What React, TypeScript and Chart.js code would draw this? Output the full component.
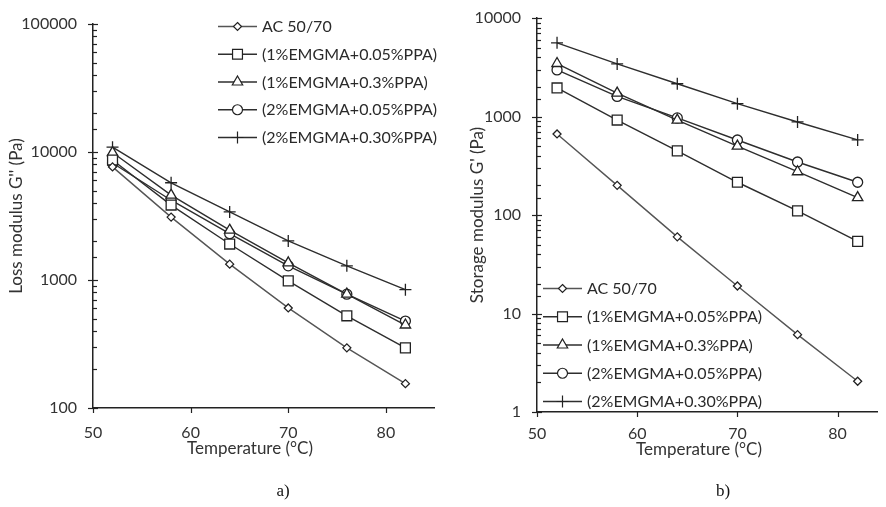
import React, { useEffect, useRef } from 'react';
import { Chart, registerables } from 'chart.js';

Chart.register(...registerables);

// ---------- data ----------
const temperatures = [52, 58, 64, 70, 76, 82];
const seriesNames = [
  'AC 50/70',
  '(1%EMGMA+0.05%PPA)',
  '(1%EMGMA+0.3%PPA)',
  '(2%EMGMA+0.05%PPA)',
  '(2%EMGMA+0.30%PPA)',
];
// Loss modulus G'' (Pa)
const lossAC = [7650, 3100, 1330, 605, 295, 155];
const loss1EM005 = [8650, 3850, 1910, 985, 525, 295];
const loss1EM03 = [9900, 4600, 2450, 1360, 775, 445];
const loss2EM005 = [8200, 4200, 2300, 1290, 775, 478];
const loss2EM03 = [10900, 5750, 3400, 2020, 1290, 840];
// Storage modulus G' (Pa)
const storAC = [665, 200, 60, 19, 6.1, 2.05];
const stor1EM005 = [1950, 920, 448, 215, 110, 54];
const stor1EM03 = [3450, 1730, 920, 500, 275, 150];
const stor2EM005 = [2970, 1600, 968, 577, 345, 215];
const stor2EM03 = [5600, 3420, 2150, 1350, 880, 578];

const xTickValues = [50, 60, 70, 80];
const lossYLabels = [100, 1000, 10000, 100000];
const storYLabels = [1, 10, 100, 1000, 10000];
const xTitle = 'Temperature (°C)';

// ---------- styles ----------
const pointStyles = ['rectRot', 'rect', 'triangle', 'circle', 'cross'];
const pointRadii = [4, 7, 6, 5, 6];
const lineColors = ['#555', '#2e2e2e', '#2e2e2e', '#2e2e2e', '#2e2e2e'];
const FONT = 'Lato, "Open Sans", sans-serif';

function drawMarker(ctx: CanvasRenderingContext2D, style: string, x: number, y: number, r: number) {
  ctx.beginPath();
  if (style === 'rectRot') {
    ctx.moveTo(x, y - r);
    ctx.lineTo(x + r, y);
    ctx.lineTo(x, y + r);
    ctx.lineTo(x - r, y);
    ctx.closePath();
  } else if (style === 'rect') {
    const s = r * Math.SQRT1_2;
    ctx.rect(x - s, y - s, 2 * s, 2 * s);
  } else if (style === 'triangle') {
    let a = 0;
    ctx.moveTo(x + Math.sin(a) * r, y - Math.cos(a) * r);
    a += (2 * Math.PI) / 3;
    ctx.lineTo(x + Math.sin(a) * r, y - Math.cos(a) * r);
    a += (2 * Math.PI) / 3;
    ctx.lineTo(x + Math.sin(a) * r, y - Math.cos(a) * r);
    ctx.closePath();
  } else if (style === 'circle') {
    ctx.arc(x, y, r, 0, Math.PI * 2);
  } else if (style === 'cross') {
    ctx.moveTo(x, y - r);
    ctx.lineTo(x, y + r);
    ctx.moveTo(x - r, y);
    ctx.lineTo(x + r, y);
  }
  if (style !== 'cross') {
    ctx.fillStyle = '#fff';
    ctx.fill();
  }
  ctx.stroke();
}

const isPow10 = (v: number) => Math.abs(Math.log10(v) - Math.round(Math.log10(v))) < 1e-6;

const decorPlugin = {
  id: 'decor',
  afterDraw(chart: any, _args: any, opts: any) {
    const ctx: CanvasRenderingContext2D = chart.ctx;
    const xs = chart.scales.x;
    const ys = chart.scales.y;
    const area = chart.chartArea;
    ctx.save();
    ctx.strokeStyle = '#222';
    ctx.lineWidth = 1.2;
    // y ticks
    ys.ticks.forEach((t: any) => {
      const py = Math.round(ys.getPixelForValue(t.value)) + 0.5;
      const major = isPow10(t.value);
      ctx.beginPath();
      ctx.moveTo(area.left - (major ? 5 : 0), py);
      ctx.lineTo(area.left + (major ? 5 : 4), py);
      ctx.stroke();
    });
    // x ticks
    xs.ticks.forEach((t: any) => {
      const px = Math.round(xs.getPixelForValue(t.value)) + 0.5;
      ctx.beginPath();
      ctx.moveTo(px, area.bottom);
      ctx.lineTo(px, area.bottom + 5);
      ctx.stroke();
    });
    // x axis title
    ctx.font = `17px ${FONT}`;
    ctx.fillStyle = '#333';
    ctx.textAlign = 'center';
    ctx.textBaseline = 'middle';
    ctx.fillText(opts.xTitle, area.left + opts.titleDx, area.bottom + opts.titleDy);
    // legend
    const lx = area.left + opts.dx;
    let ly = area.top + opts.dy;
    ctx.font = `16px ${FONT}`;
    ctx.textBaseline = 'middle';
    ctx.textAlign = 'left';
    chart.data.datasets.forEach((ds: any) => {
      ctx.strokeStyle = ds.borderColor;
      ctx.lineWidth = 1.3;
      ctx.beginPath();
      ctx.moveTo(lx, ly + 0.5);
      ctx.lineTo(lx + 39, ly + 0.5);
      ctx.stroke();
      ctx.strokeStyle = '#222';
      ctx.lineWidth = 1.2;
      drawMarker(ctx, ds.pointStyle, lx + 19.5, ly + 0.5, ds.pointRadius);
      ctx.fillStyle = '#2a2a2a';
      ctx.fillText(ds.label, lx + 44, ly + 1);
      ly += opts.spacing;
    });
    ctx.restore();
  },
};

type PanelProps = {
  left: number;
  series: number[][];
  yMin: number;
  yMax: number;
  yLabels: number[];
  xMax: number;
  yTitle: string;
  yAxisWidth: number;
  xAxisHeight: number;
  xTickPad: number;
  padding: { left: number; top: number; right: number; bottom: number };
  yTitlePad: number;
  decor: { dx: number; dy: number; spacing: number; titleDx: number; titleDy: number };
};

function Panel(p: PanelProps) {
  const ref = useRef<HTMLCanvasElement>(null);
  useEffect(() => {
    if (!ref.current) return;
    const chart = new Chart(ref.current, {
      type: 'line',
      data: {
        datasets: p.series.map((vals, i) => ({
          label: seriesNames[i],
          data: temperatures.map((t, j) => ({ x: t, y: vals[j] })),
          borderColor: lineColors[i],
          borderWidth: 1.4,
          pointStyle: pointStyles[i] as any,
          pointRadius: pointRadii[i],
          pointBorderColor: '#222',
          pointBackgroundColor: '#fff',
          pointBorderWidth: 1.3,
          tension: 0,
        })),
      },
      options: {
        animation: false,
        responsive: false,
        events: [],
        layout: { padding: p.padding },
        plugins: {
          legend: { display: false },
          tooltip: { enabled: false },
          decor: { ...p.decor, xTitle },
        } as any,
        scales: {
          x: {
            type: 'linear',
            min: 50,
            max: p.xMax,
            afterFit: (s: any) => {
              s.height = p.xAxisHeight;
              s.paddingLeft = 0;
              s.paddingRight = 0;
            },
            grid: { display: true, drawOnChartArea: false, drawTicks: false },
            border: { display: true, color: '#222', width: 1.5 },
            ticks: {
              stepSize: 10,
              includeBounds: false,
              padding: p.xTickPad,
              color: '#333',
              font: { family: FONT, size: 16 },
              callback: (v: any) => (xTickValues.includes(Number(v)) ? String(v) : ''),
            } as any,
          },
          y: {
            type: 'logarithmic',
            min: p.yMin,
            max: p.yMax,
            afterFit: (s: any) => {
              s.width = p.yAxisWidth;
              s.paddingTop = 0;
              s.paddingBottom = 0;
            },
            grid: { display: true, drawOnChartArea: false, drawTicks: false },
            border: { display: true, color: '#222', width: 1.5 },
            ticks: {
              autoSkip: false,
              padding: 16,
              color: '#333',
              font: { family: FONT, size: 16 },
              callback: (v: any) => (p.yLabels.includes(Number(v)) ? String(v) : ''),
            },
            title: {
              display: true,
              text: p.yTitle,
              color: '#333',
              font: { family: FONT, size: 17 },
              padding: { top: p.yTitlePad, bottom: 0 },
            },
          },
        },
      },
      plugins: [decorPlugin],
    });
    return () => chart.destroy();
  }, []);
  return (
    <canvas
      ref={ref}
      width={443}
      height={507}
      style={{ position: 'absolute', left: p.left, top: 0, width: 443, height: 507 }}
    />
  );
}

export default function App() {
  useEffect(() => {
    document.body.style.margin = '0';
  }, []);
  const captionStyle: React.CSSProperties = {
    position: 'absolute',
    top: 481,
    width: 40,
    textAlign: 'center',
    fontFamily: '"Liberation Serif", "Times New Roman", serif',
    fontSize: 17,
    color: '#111',
    lineHeight: '20px',
  };
  return (
    <div style={{ position: 'absolute', left: 0, top: 0, width: 886, height: 507, background: '#fff', overflow: 'hidden' }}>
      <Panel
        left={0}
        series={[lossAC, loss1EM005, loss1EM03, loss2EM005, loss2EM03]}
        yMin={100}
        yMax={100000}
        yLabels={lossYLabels}
        xMax={85}
        yTitle={"Loss modulus G'' (Pa)"}
        yAxisWidth={93}
        xAxisHeight={51}
        xTickPad={15}
        padding={{ left: 0, top: 24, right: 8, bottom: 48 }}
        yTitlePad={6}
        decor={{ dx: 125, dy: 2, spacing: 27.75, titleDx: 157, titleDy: 41 }}
      />
      <Panel
        left={443}
        series={[storAC, stor1EM005, stor1EM03, stor2EM005, stor2EM03]}
        yMin={1}
        yMax={10000}
        yLabels={storYLabels}
        xMax={84}
        yTitle={"Storage modulus G' (Pa)"}
        yAxisWidth={94}
        xAxisHeight={48}
        xTickPad={12}
        padding={{ left: 0, top: 18, right: 1, bottom: 47 }}
        yTitlePad={24}
        decor={{ dx: 6, dy: 270, spacing: 28.25, titleDx: 162, titleDy: 38 }}
      />
      <div style={{ ...captionStyle, left: 263 }}>a)</div>
      <div style={{ ...captionStyle, left: 703 }}>b)</div>
    </div>
  );
}
